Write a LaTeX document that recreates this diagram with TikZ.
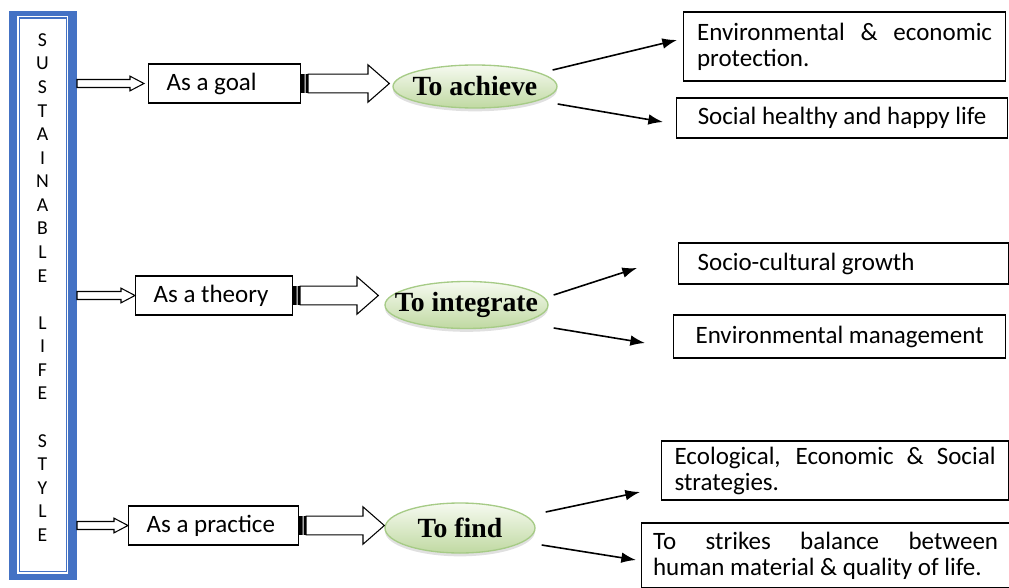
\documentclass[tikz,border=0pt]{standalone}
\usepackage{fontspec}
\setmainfont{Carlito}
\newfontfamily\timesfont{Liberation Serif}
\usetikzlibrary{calc,arrows.meta,shapes.geometric,shadows}
\definecolor{frameblue}{HTML}{4472C4}
\definecolor{ellline}{HTML}{A6CB86}
\definecolor{elltop}{HTML}{F6FAF0}
\definecolor{ellbot}{HTML}{C0D9A2}
\newcommand{\fsz}{\fontsize{18.75}{19.5}\selectfont}
\tolerance=10000
\hyphenpenalty=10000
% small open arrow, from #1 to #2
\newcommand{\openarr}[2]{%
  \draw[line width=0.8pt,fill=white] let \p1=(#1), \p2=(#2) in
    (\x1,\y1+3pt) -- (\x2-10.5pt,\y1+3pt) -- (\x2-10.5pt,\y1+5.5pt) -- (\x2,\y1)
    -- (\x2-10.5pt,\y1-5.5pt) -- (\x2-10.5pt,\y1-3pt) -- (\x1,\y1-3pt) -- cycle;}
% block arrow with two stripes, from #1 to #2
\newcommand{\stripearr}[2]{%
  \fill let \p1=(#1) in (\x1,\y1-7pt) rectangle (\x1+2.6pt,\y1+7pt)
    (\x1+3.4pt,\y1-7pt) rectangle (\x1+5.2pt,\y1+7pt);
  \draw[line width=0.8pt,fill=white] let \p1=(#1), \p2=(#2) in
    (\x1+5.2pt,\y1+7pt) -- (\x2-16pt,\y1+7pt) -- (\x2-16pt,\y1+14pt) -- (\x2,\y1)
    -- (\x2-16pt,\y1-14pt) -- (\x2-16pt,\y1-7pt) -- (\x1+5.2pt,\y1-7pt) -- cycle;}

\begin{document}
\begin{tikzpicture}
[x=0.75pt,y=-0.75pt,
 box/.style={draw,line width=0.9pt,font=\fsz,anchor=west,inner ysep=0pt},
 ell/.style={ellipse,draw=ellline,line width=1pt,top color=elltop,bottom color=ellbot,
   inner sep=0pt,drop shadow={opacity=0.3,fill=gray!80,shadow xshift=0pt,shadow yshift=-2.5pt}},
 eltext/.style={font=\timesfont\bfseries\fontsize{20.8}{22}\selectfont},
 link/.style={-{Latex[length=11pt,width=8pt]},line width=1.2pt}]
\useasboundingbox (0,0) rectangle (1009,588);

% left frame
\node [fill=frameblue,inner sep=0pt,outer sep=0pt,minimum width=51pt,minimum height=426.75pt] at (43,295.5) (side) {};
\fill [white] ([shift={(8,5)}]side.north west) rectangle ([shift={(-9,-6)}]side.south east);
\draw [frameblue,line width=1.1pt] ([shift={(10.5,7)}]side.north west) rectangle ([shift={(-10.5,-8.5)}]side.south east);
\node [align=center,font=\fontsize{14.8}{17.68}\selectfont,inner sep=0pt] at (42.5,287.5) (word)
  {S\\U\\S\\T\\A\\I\\N\\A\\B\\L\\E\\~\\L\\I\\F\\E\\~\\S\\T\\Y\\L\\E};

% middle column
\node [box,text width=87pt,inner xsep=13.5pt,minimum height=29.25pt,align=flush left] at (148,83.5) (goal) {As a goal};
\node [box,text width=90.75pt,inner xsep=13.5pt,minimum height=29.25pt,align=flush left] at (135,295.5) (theory) {As a theory};
\node [box,text width=100.5pt,inner xsep=13.5pt,minimum height=29.25pt,align=flush left] at (128,525.5) (practice) {As a practice};

\node [ell,minimum width=123pt,minimum height=32.25pt,label={[eltext]center:To achieve}] at (475,86.5) (ach) {};
\node [ell,minimum width=122.25pt,minimum height=35.25pt,label={[eltext]center:To integrate}] at (466.5,305) (integ) {};
\node [ell,minimum width=112.5pt,minimum height=37.5pt,label={[eltext]center:To find}] at (460,528) (find) {};

% right column
\node [box,text width=221.25pt,minimum width=241.5pt,minimum height=51.75pt,align=justify] at (683,46.5) (env)
  {Environmental \& economic\linebreak protection.};
\node [box,minimum width=248.25pt,minimum height=30pt] at (676,118) (happy) {Social healthy and happy life};
\node [box,text width=219pt,inner xsep=14.25pt,minimum height=30.75pt,align=flush left] at (678,263.5) (soc) {Socio-cultural growth};
\node [box,minimum width=249pt,minimum height=32.25pt] at (673,336.5) (envm) {Environmental management};
\node [box,text width=240.75pt,minimum width=260.25pt,minimum height=44.25pt,align=justify] at (661,470.5) (eco)
  {Ecological, Economic \& Social\linebreak strategies.};
\node [box,text width=258.75pt,minimum width=276pt,minimum height=48.75pt,align=justify] at (641,555.5) (bal)
  {To strikes balance between\linebreak human material \& quality of life.};

% arrows
\openarr{side.east |- goal.west}{$(goal.west)+(-4,0)$}
\openarr{side.east |- theory.west}{theory.west}
\openarr{side.east |- practice.west}{practice.west}

\stripearr{goal.east}{$(ach.west)+(-3,0)$}
\stripearr{theory.east}{$(integ.west)+(-6,0)$}
\stripearr{practice.east}{find.west}

\draw [link] ($(ach.east)+(-5,-16.5)$) -- ($(env.west)+(-6,-6.5)$);
\draw [link] ($(ach.east)+(0,17.5)$) -- ($(happy.west)+(-13,4)$);
\draw [link] ($(integ.east)+(5,-10)$) -- ($(soc.west)+(-41,4.5)$);
\draw [link] ($(integ.east)+(5,23)$) -- ($(envm.west)+(-28,6.5)$);
\draw [link] ($(find.east)+(10,-16)$) -- ($(eco.west)+(-21,21.5)$);
\draw [link] ($(find.east)+(6,17)$) -- ($(bal.west)+(-5,4.5)$);
\end{tikzpicture}
\end{document}
